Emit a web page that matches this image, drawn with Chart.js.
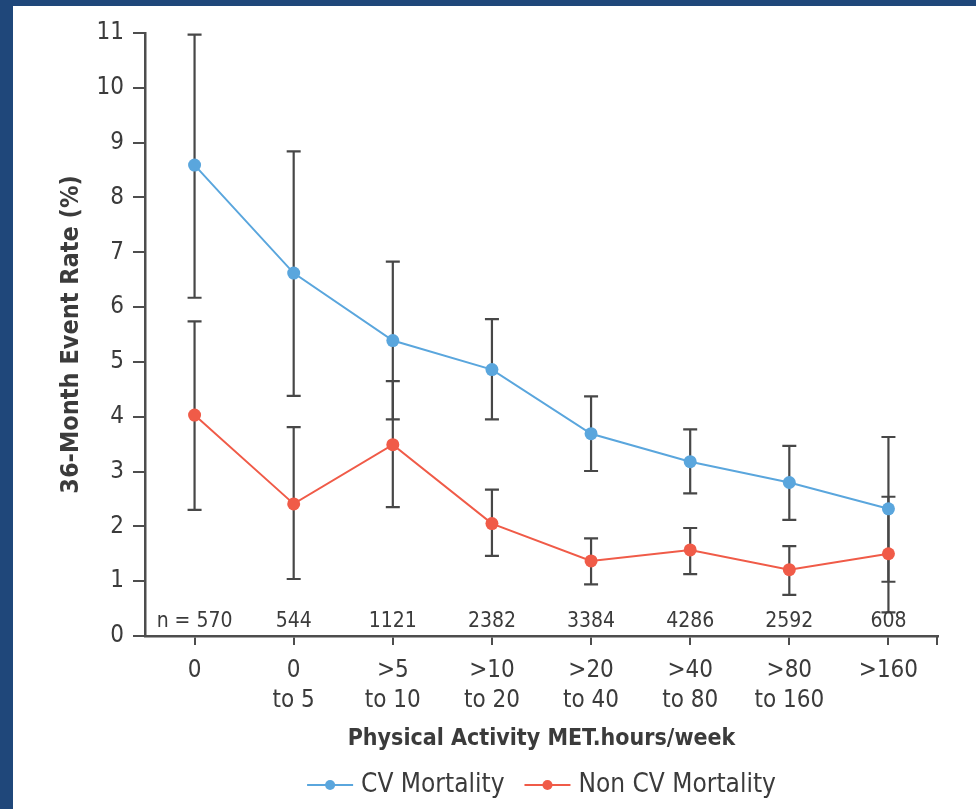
<!DOCTYPE html>
<html>
<head>
<meta charset="utf-8">
<script src="https://cdn.jsdelivr.net/npm/chart.js@4/dist/chart.umd.min.js"></script>
<style>
  html, body { margin: 0; padding: 0; background: #1f477a; width: 976px; height: 809px; overflow: hidden; }
  #wrap { position: absolute; left: 13px; top: 6px; width: 963px; height: 803px; background: #fff; }
</style>
</head>
<body>
<div id="wrap"><canvas id="chart"></canvas></div>
<script>
const categories = ['0', ['0', 'to 5'], ['>5', 'to 10'], ['>10', 'to 20'], ['>20', 'to 40'], ['>40', 'to 80'], ['>80', 'to 160'], '>160'];
const nCounts = ['n = 570', '544', '1121', '2382', '3384', '4286', '2592', '608'];

const cvRate = [8.59, 6.62, 5.39, 4.86, 3.69, 3.18, 2.80, 2.32];
const cvUpper = [10.97, 8.84, 6.83, 5.78, 4.37, 3.77, 3.47, 3.63];
const cvLower = [6.17, 4.38, 3.95, 3.95, 3.01, 2.60, 2.12, 0.99];

const nonCvRate = [4.03, 2.41, 3.49, 2.05, 1.37, 1.57, 1.21, 1.50];
const nonCvUpper = [5.74, 3.81, 4.65, 2.67, 1.78, 1.97, 1.64, 2.54];
const nonCvLower = [2.30, 1.04, 2.35, 1.46, 0.94, 1.13, 0.75, 0.43];

const yTicks = [0, 1, 2, 3, 4, 5, 6, 7, 8, 9, 10, 11];

const BLUE = '#5aa6dd';
const RED = '#f05b48';
const AXIS = '#4d4d4d';
const TEXT = '#3b3b3b';
const FONT = "'Liberation Sans Narrow', 'DejaVu Sans Condensed', sans-serif";

const errorBars = {
  id: 'errorBars',
  beforeDatasetsDraw(chart) {
    const { ctx, scales: { x, y } } = chart;
    const sets = [[cvUpper, cvLower], [nonCvUpper, nonCvLower]];
    ctx.save();
    ctx.strokeStyle = '#474747';
    ctx.lineWidth = 2.2;
    sets.forEach(([up, lo]) => {
      up.forEach((u, i) => {
        const px = x.getPixelForValue(i);
        const yu = y.getPixelForValue(u);
        const yl = y.getPixelForValue(lo[i]);
        ctx.beginPath();
        ctx.moveTo(px, yu); ctx.lineTo(px, yl);
        ctx.moveTo(px - 7, yu); ctx.lineTo(px + 7, yu);
        ctx.moveTo(px - 7, yl); ctx.lineTo(px + 7, yl);
        ctx.stroke();
      });
    });
    ctx.restore();
  },
  afterDraw(chart) {
    const { ctx, chartArea, scales: { x } } = chart;
    ctx.save();
    // n counts above the x axis
    ctx.fillStyle = TEXT;
    ctx.font = '21px ' + FONT;
    ctx.textAlign = 'center';
    ctx.textBaseline = 'middle';
    nCounts.forEach((t, i) => {
      ctx.fillText(t, x.getPixelForValue(i), chartArea.bottom - 14);
    });
    // closing tick at the right end of the x axis
    ctx.strokeStyle = AXIS;
    ctx.lineWidth = 2;
    ctx.beginPath();
    ctx.moveTo(chartArea.right - 1, chartArea.bottom);
    ctx.lineTo(chartArea.right - 1, chartArea.bottom + 9);
    ctx.stroke();

    // legend, centred under the plot area
    const lineW = 46, gapText = 8, gapItem = 20, ly = 779;
    ctx.font = '26px ' + FONT;
    ctx.textAlign = 'left';
    const items = chart.data.datasets.map(ds => ({ color: ds.borderColor, text: ds.label, w: ctx.measureText(ds.label).width }));
    const total = items.reduce((s, it) => s + lineW + gapText + it.w, 0) + gapItem * (items.length - 1);
    let lx = (chartArea.left + chartArea.right) / 2 - total / 2;
    items.forEach(it => {
      ctx.strokeStyle = it.color;
      ctx.lineWidth = 2;
      ctx.beginPath(); ctx.moveTo(lx, ly); ctx.lineTo(lx + lineW, ly); ctx.stroke();
      ctx.fillStyle = it.color;
      ctx.beginPath(); ctx.arc(lx + lineW / 2, ly, 5, 0, Math.PI * 2); ctx.fill();
      ctx.fillStyle = TEXT;
      ctx.fillText(it.text, lx + lineW + gapText, ly);
      lx += lineW + gapText + it.w + gapItem;
    });
    ctx.restore();
  }
};

new Chart(document.getElementById('chart'), {
  type: 'line',
  data: {
    labels: categories,
    datasets: [
      {
        label: 'CV Mortality',
        data: cvRate,
        borderColor: BLUE,
        backgroundColor: BLUE,
        borderWidth: 2,
        pointRadius: 6.5,
        pointBorderWidth: 0,
        pointStyle: 'circle',
        tension: 0
      },
      {
        label: 'Non CV Mortality',
        data: nonCvRate,
        borderColor: RED,
        backgroundColor: RED,
        borderWidth: 2,
        pointRadius: 6.5,
        pointBorderWidth: 0,
        pointStyle: 'circle',
        tension: 0
      }
    ]
  },
  options: {
    responsive: true,
    maintainAspectRatio: false,
    animation: false,
    layout: { padding: { top: 27, right: 38, left: 0, bottom: 0 } },
    plugins: {
      tooltip: { enabled: false },
      legend: { display: false }
    },
    scales: {
      x: {
        offset: true,
        afterFit(scale) { scale.height = 173; },
        border: { color: AXIS, width: 2.5 },
        grid: { offset: false, drawOnChartArea: false, tickLength: 9, tickColor: AXIS, lineWidth: 2 },
        ticks: {
          color: TEXT,
          font: { family: FONT, size: 24, lineHeight: 1.25 },
          padding: 11,
          maxRotation: 0,
          autoSkip: false
        },
        title: {
          display: true,
          text: 'Physical Activity MET.hours/week',
          color: TEXT,
          font: { family: FONT, size: 23, weight: 'bold' },
          padding: { top: 0, bottom: 56 }
        }
      },
      y: {
        min: 0,
        max: 11,
        afterFit(scale) { scale.width = 132; },
        afterBuildTicks(scale) { scale.ticks = yTicks.map(v => ({ value: v })); },
        border: { color: AXIS, width: 2.5 },
        grid: { drawOnChartArea: false, tickLength: 12, tickColor: AXIS, lineWidth: 2 },
        ticks: {
          color: TEXT,
          font: { family: FONT, size: 24 },
          padding: 9
        },
        title: {
          display: true,
          text: '36-Month Event Rate (%)',
          color: TEXT,
          font: { family: FONT, size: 25, weight: 'bold' },
          padding: { top: 43, bottom: 0 }
        }
      }
    }
  },
  plugins: [errorBars]
});
</script>
</body>
</html>
